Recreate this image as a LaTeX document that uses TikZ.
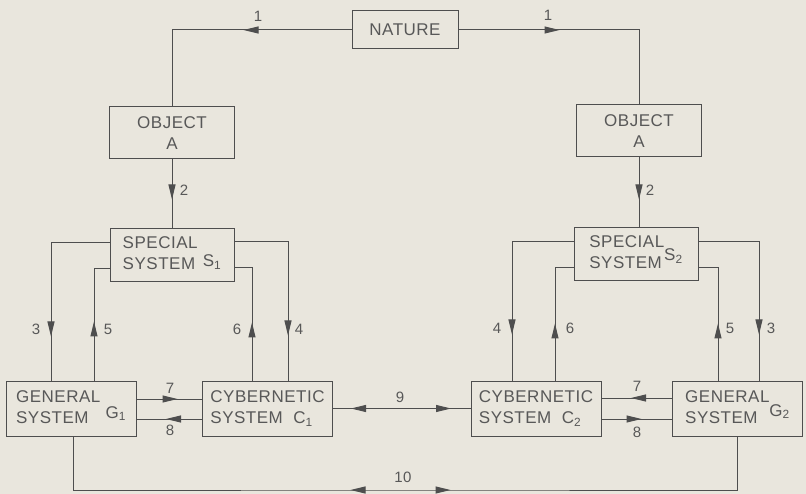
\documentclass[tikz,border=0pt]{standalone}
\usepackage{fontspec}
\setmainfont{Liberation Sans}[LetterSpace=3]
\usepackage{xcolor}
\usetikzlibrary{arrows.meta,decorations.markings}
\definecolor{paperbg}{RGB}{233,230,221}
\definecolor{inkgray}{RGB}{78,78,78}
\definecolor{textgray}{RGB}{88,88,88}
\newcommand{\boxtext}[3]{\begin{tabular}[b]{@{}l@{}}#1\\#2\end{tabular}#3}
\tikzset{flowtip/.tip={Triangle[length=15pt,width=7pt]}}

\begin{document}
\begin{tikzpicture}[
    x=1pt, y=-1pt,
    box/.style={
      rectangle, draw=inkgray, line width=1pt, text=textgray,
      inner sep=2pt, font=\fontsize{17}{21}\selectfont
    },
    natbox/.style={box, minimum width=106pt, minimum height=38pt},
    objbox/.style={box, minimum width=125pt, minimum height=52pt, align=center},
    specbox/.style={box, minimum width=124pt, minimum height=53pt},
    lowbox/.style={box, minimum width=130pt, minimum height=55pt, align=left},
    num/.style={text=textgray, inner sep=1pt, font=\fontsize{15}{17}\selectfont},
    link/.style={draw=inkgray, line width=1pt},
    fwd/.style={postaction={decorate, decoration={markings,
      mark=at position #1 with {\arrow{flowtip}}}}},
    back/.style={postaction={decorate, decoration={markings,
      mark=at position #1 with {\arrowreversed{flowtip}}}}}
  ]
    \fill[paperbg] (0,0) rectangle (806,494);
    \useasboundingbox (0,0) rectangle (806,494);

    \node[natbox] (nature) at (405,30) {NATURE};
    \node[objbox] (objL) at (172,133) {OBJECT\\A};
    \node[objbox] (objR) at (639,131) {OBJECT\\A};
    \node[specbox] (specL) at (172,255) {\boxtext{SPECIAL}{SYSTEM}{~\raisebox{3pt}{S\textsubscript{1}}}};
    \node[specbox] (specR) at (636,254) {\boxtext{SPECIAL}{SYSTEM}{\raisebox{8pt}{S\textsubscript{2}}}};
    \node[lowbox] (genL) at (71,408.5) {\boxtext{GENERAL}{SYSTEM}{~\raisebox{5pt}{G\textsubscript{1}}}};
    \node[lowbox] (cybL) at (267.5,408.5) {CYBERNETIC\\SYSTEM~~C\textsubscript{1}};
    \node[lowbox] (cybR) at (536,408.5) {CYBERNETIC\\SYSTEM~~C\textsubscript{2}};
    \node[lowbox] (genR) at (737.5,408.5) {\boxtext{GENERAL}{SYSTEM}{\raisebox{7pt}{G\textsubscript{2}}}};
    \coordinate (base) at (405,490);

    \draw[link, fwd=108pt] (nature.west) -| (objL.north);
    \draw[link, fwd=101pt] (nature.east) -| (objR.north);
    \draw[link, fwd=40pt] (objL.south) -- (specL.north);
    \draw[link, fwd=42pt] (objR.south) -- (objR.south |- specR.north);

    \draw[link, fwd=152pt] ([yshift=12pt]specL.west) -| ([xshift=-20pt]genL.north);
    \draw[link, fwd=59pt] ([xshift=23pt]genL.north) |- ([yshift=-14pt]specL.west);
    \draw[link, fwd=58pt] ([xshift=-15.5pt]cybL.north) |- ([yshift=-13pt]specL.east);
    \draw[link, fwd=147pt] ([yshift=13pt]specL.east) -| ([xshift=20.5pt]cybL.north);
    \draw[link, fwd=154pt] ([yshift=12pt]specR.west) -| ([xshift=-24pt]cybR.north);
    \draw[link, fwd=57pt] ([xshift=19pt]cybR.north) |- ([yshift=-14pt]specR.west);
    \draw[link, fwd=57pt] ([xshift=-19.5pt]genR.north) |- ([yshift=-14pt]specR.east);
    \draw[link, fwd=153pt] ([yshift=12pt]specR.east) -| ([xshift=21.5pt]genR.north);

    \draw[link, fwd=41pt] ([yshift=9.5pt]genL.east) -- ([yshift=9.5pt]cybL.west);
    \draw[link, fwd=36pt] ([yshift=-10.5pt]cybL.west) -- ([yshift=-10.5pt]genL.east);
    \draw[link, fwd=41pt] ([yshift=10.5pt]genR.west) -- ([yshift=10.5pt]cybR.east);
    \draw[link, fwd=40pt] ([yshift=-10.5pt]cybR.east) -- ([yshift=-10.5pt]genR.west);
    \draw[link, back=18pt, fwd=118pt] (cybL.east) -- (cybR.west);
    \draw[link, back=331pt, fwd=431pt] ([xshift=2pt]genL.south) |- (base) -| (genR.south);

    \node[num] (n1a) at (258,16) {1};
    \node[num] (n1b) at (548,15) {1};
    \node[num] (n2a) at (184,190) {2};
    \node[num] (n2b) at (650,190) {2};
    \node[num] (n3a) at (36,329) {3};
    \node[num] (n5a) at (108,329) {5};
    \node[num] (n6a) at (237,329) {6};
    \node[num] (n4a) at (299,329) {4};
    \node[num] (n4b) at (497,328) {4};
    \node[num] (n6b) at (570,328) {6};
    \node[num] (n5b) at (730,328) {5};
    \node[num] (n3b) at (771,328) {3};
    \node[num] (n7a) at (170,388) {7};
    \node[num] (n8a) at (170,430) {8};
    \node[num] (n7b) at (637,386) {7};
    \node[num] (n8b) at (637,432) {8};
    \node[num] (n9) at (400,397) {9};
    \node[num] (n10) at (403,477) {10};
  \end{tikzpicture}
\end{document}
